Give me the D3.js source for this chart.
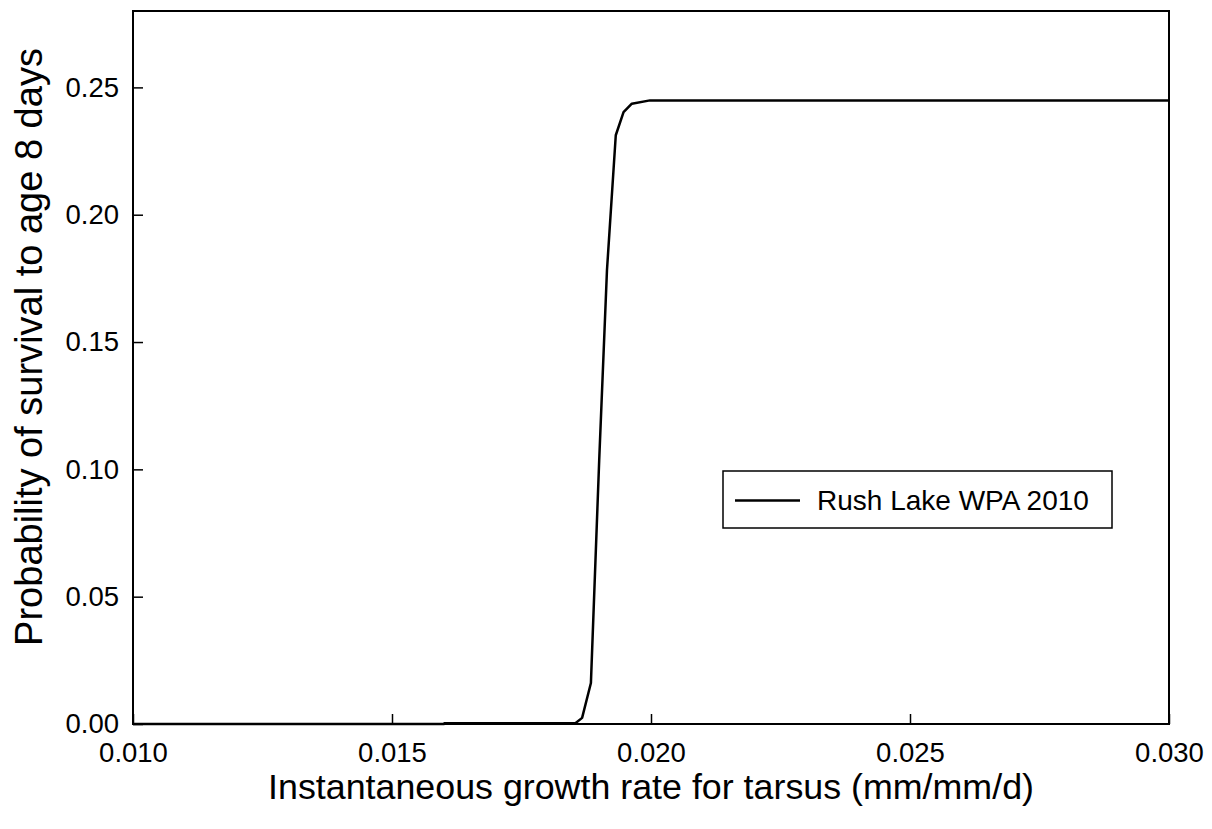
<!DOCTYPE html>
<html>
<head>
<meta charset="utf-8">
<script src="https://cdn.jsdelivr.net/npm/d3@7"></script>
<style>
  html, body { margin: 0; padding: 0; background: #fff; }
  svg { display: block; font-family: Arial, "Liberation Sans", sans-serif; }
</style>
</head>
<body>
<svg id="chart" width="1212" height="829"></svg>
<script>
// ---- data ----
const growthRate = [0.0100, 0.0160, 0.01601, 0.01854, 0.01867, 0.01884, 0.01900, 0.01915, 0.01932, 0.01947, 0.01963, 0.01998, 0.0300];
const survival   = [0.0000, 0.0000, 0.0003, 0.0003, 0.0024, 0.0161, 0.1036, 0.1782, 0.2312, 0.2403, 0.2436, 0.2449, 0.2449];
const xTicks = [0.010, 0.015, 0.020, 0.025, 0.030];
const yTicks = [0.00, 0.05, 0.10, 0.15, 0.20, 0.25];
const seriesName = "Rush Lake WPA 2010";
const xTitle = "Instantaneous growth rate for tarsus (mm/mm/d)";
const yTitle = "Probability of survival to age 8 days";

const svg = d3.select("#chart");
const pLeft = 133, pRight = 1169, pTop = 11, pBottom = 724;

const x = d3.scaleLinear().domain([0.010, 0.030]).range([pLeft, pRight]);
const y = d3.scaleLinear().domain([0, 0.28]).range([pBottom, pTop]);

// frame
svg.append("rect")
  .attr("x", pLeft).attr("y", pTop)
  .attr("width", pRight - pLeft).attr("height", pBottom - pTop)
  .attr("fill", "none").attr("stroke", "#000").attr("stroke-width", 2);

// x axis
const xAxis = d3.axisBottom(x).tickValues(xTicks).tickFormat(d3.format(".3f"))
  .tickSizeInner(-10).tickSizeOuter(0).tickPadding(18);
const gx = svg.append("g").attr("transform", `translate(0,${pBottom})`).call(xAxis);
gx.select(".domain").remove();
gx.selectAll(".tick line").attr("stroke", "#000").attr("stroke-width", 1.5);
gx.selectAll(".tick text").attr("font-size", 27.5).attr("fill", "#000")
  .attr("font-family", "Arial, 'Liberation Sans', sans-serif");

// y axis
const yAxis = d3.axisLeft(y).tickValues(yTicks).tickFormat(d3.format(".2f"))
  .tickSizeInner(-10).tickSizeOuter(0).tickPadding(14);
const gy = svg.append("g").attr("transform", `translate(${pLeft},0)`).call(yAxis);
gy.select(".domain").remove();
gy.selectAll(".tick line").attr("stroke", "#000").attr("stroke-width", 1.5);
gy.selectAll(".tick text").attr("font-size", 27.5).attr("fill", "#000")
  .attr("font-family", "Arial, 'Liberation Sans', sans-serif");

// line
const pts = growthRate.map((g, i) => [g, survival[i]]);
const line = d3.line().x(d => x(d[0])).y(d => y(d[1]));
svg.append("path").datum(pts)
  .attr("d", line)
  .attr("fill", "none").attr("stroke", "#000").attr("stroke-width", 2.5)
  .attr("stroke-linejoin", "round");

// axis titles
svg.append("text")
  .attr("x", 651).attr("y", 799)
  .attr("text-anchor", "middle").attr("font-size", 35.8).attr("fill", "#000")
  .text(xTitle);
svg.append("text")
  .attr("transform", "translate(42,347) rotate(-90)")
  .attr("text-anchor", "middle").attr("font-size", 38).attr("fill", "#000")
  .text(yTitle);

// legend
const lg = svg.append("g");
lg.append("rect").attr("x", 723).attr("y", 471).attr("width", 389).attr("height", 57)
  .attr("fill", "#fff").attr("stroke", "#000").attr("stroke-width", 1.5);
lg.append("line").attr("x1", 735).attr("x2", 800).attr("y1", 500.5).attr("y2", 500.5)
  .attr("stroke", "#000").attr("stroke-width", 2.5);
lg.append("text").attr("x", 817).attr("y", 510).attr("font-size", 28).attr("fill", "#000")
  .text(seriesName);
</script>
</body>
</html>
